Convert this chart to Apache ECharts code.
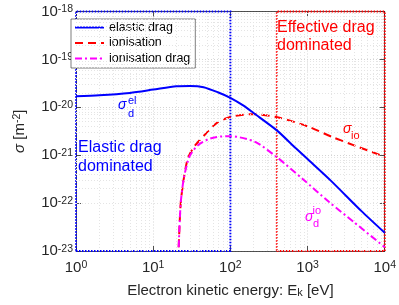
<!DOCTYPE html>
<html><head><meta charset="utf-8">
<script src="https://cdn.jsdelivr.net/npm/echarts@6/dist/echarts.min.js"></script>
<style>html,body{margin:0;padding:0;background:#fff}#c{width:399px;height:305px}</style>
</head><body><div id="c"></div>
<script>
// ---- data (cross sections in m^2, energies in eV) ----
const seriesNames = ['elastic drag', 'ionisation', 'ionisation drag'];
const elasticE = [1, 2, 5, 10, 20, 30, 45, 70, 100, 150, 200, 400, 700, 1000, 2000, 5000, 10000];
const elasticSigma = [1.70e-20, 1.78e-20, 2.0e-20, 2.34e-20, 2.75e-20, 2.79e-20, 2.63e-20, 2.04e-20, 1.58e-20, 1.07e-20, 7.6e-21, 3.3e-21, 1.41e-21, 8.3e-22, 2.95e-22, 6.8e-23, 2.4e-23];
const ionE = [21.4, 22.1, 22.9, 25.1, 28.2, 34.7, 50, 67.6, 100, 195, 407, 1000, 2090, 4470, 10000];
const ionSigma = [1.2e-23, 4.4e-23, 1.15e-22, 3.5e-22, 8.7e-22, 1.58e-21, 3.0e-21, 4.8e-21, 6.3e-21, 7.2e-21, 6.2e-21, 4.0e-21, 2.4e-21, 1.5e-21, 9.3e-22];
const ionDragE = [21.4, 22.1, 22.9, 25.1, 29.5, 38, 55, 89, 100, 209, 407, 871, 1905, 4000, 10000];
const ionDragSigma = [1.2e-23, 4.4e-23, 1.15e-22, 3.5e-22, 9.3e-22, 1.62e-21, 2.24e-21, 2.5e-21, 2.5e-21, 1.9e-21, 8.9e-22, 3.16e-22, 1.05e-22, 4.0e-23, 1.2e-23];
const xRange = [1, 10000];
const yRange = [1e-23, 1e-18];
const elasticRegion = [1, 100];
const effectiveRegion = [400, 10000];
const regionLabels = ['Elastic drag\ndominated', 'Effective drag\ndominated'];

// ECharts' log scale rounds extents below ~1e-20 to 0, so the y axis works in
// units of 1e-20 m^2 internally; tick labels add the exponent back.
const Y_EXP = 20;
const ys = v => v * Math.pow(10, Y_EXP);

// ---- helpers ----
const zip = (xs, yv) => xs.map((x, i) => [x, ys(yv[i])]);
const minorVals = (lo, hi) => {
  const res = [];
  for (let d = Math.round(Math.log10(lo)); d < Math.round(Math.log10(hi)); d++)
    for (let m = 2; m <= 9; m++) res.push(m * Math.pow(10, d));
  return res;
};
const FONT = '"Liberation Sans", Arial, Helvetica, sans-serif';
const AX = '#262626';
const xLabel = v => '{b|10}{s|' + Math.round(Math.log10(v)) + '}';
const yLabel = v => '{b|10}{s|' + (Math.round(Math.log10(v)) - Y_EXP) + '}';
const richTick = {
  b: { fontSize: 15, fontFamily: FONT, color: AX, verticalAlign: 'bottom', lineHeight: 15, padding: [4, 0, 0, 0] },
  s: { fontSize: 10.5, fontFamily: FONT, color: AX, verticalAlign: 'top', lineHeight: 11 }
};
const gridDot = { color: '#d4d4d4', width: 1, type: [1, 2] };
const minorDot = { color: '#e4e4e4', width: 1, type: [1, 2] };
const yMin = ys(yRange[0]), yMax = ys(yRange[1]);
const lineSeries = (name, data, color, type, z) => ({
  name, type: 'line', data, symbol: 'none', showSymbol: false, smooth: 0.25, z,
  lineStyle: { color, width: 2, type }, itemStyle: { color }
});
const regionArea = (color, range) => ({
  silent: true,
  itemStyle: { color: 'rgba(0,0,0,0)', borderColor: color, borderWidth: 2, borderType: [1.5, 1.5] },
  data: [[{ xAxis: range[0], yAxis: yMin }, { xAxis: range[1], yAxis: yMax }]]
});

const chart = echarts.init(document.getElementById('c'), null, { renderer: 'canvas' });
const sElastic = lineSeries(seriesNames[0], zip(elasticE, elasticSigma), '#0000ff', 'solid', 5);
sElastic.markArea = regionArea('#0000ff', elasticRegion);
const sIon = lineSeries(seriesNames[1], zip(ionE, ionSigma), '#ff0000', [8, 5], 4);
sIon.markArea = regionArea('#ff0000', effectiveRegion);
const sIonDrag = lineSeries(seriesNames[2], zip(ionDragE, ionDragSigma), '#ff00ff', [7, 3, 2, 3], 6);

const option = {
  animation: false,
  backgroundColor: '#fff',
  textStyle: { fontFamily: FONT },
  grid: { left: 63, right: 14, top: 10, bottom: 54 },
  legend: {
    data: seriesNames,
    left: 71, top: 19, orient: 'vertical',
    itemWidth: 29, itemHeight: 14, itemGap: 2.5,
    padding: [2, 5, 3, 3],
    backgroundColor: '#fff', borderColor: AX, borderWidth: 0.6,
    itemStyle: { opacity: 0 },
    lineStyle: { width: 2 },
    textStyle: { fontSize: 12.5, color: '#000', fontFamily: FONT }
  },
  xAxis: [{
    type: 'log', min: xRange[0], max: xRange[1],
    name: '{n|Electron kinetic energy: E}{k|k}{n| [eV]}',
    nameLocation: 'middle', nameGap: 30,
    nameTextStyle: { rich: {
      n: { fontSize: 15, fontFamily: FONT, color: AX, verticalAlign: 'top', lineHeight: 16 },
      k: { fontSize: 11, fontFamily: FONT, color: AX, verticalAlign: 'bottom', lineHeight: 11, padding: [8, 0, 0, 0] }
    } },
    axisLine: { show: true, lineStyle: { color: AX, width: 0.8 } },
    axisTick: { show: true, inside: true, length: 5, lineStyle: { color: AX, width: 0.8 } },
    axisLabel: { formatter: xLabel, rich: richTick, margin: 9 },
    splitLine: { show: true, lineStyle: gridDot }
  }, {
    type: 'log', min: xRange[0], max: xRange[1], position: 'top',
    axisLine: { show: true, lineStyle: { color: AX, width: 0.8 } },
    axisTick: { show: true, inside: true, length: 5, lineStyle: { color: AX, width: 0.8 } },
    axisLabel: { show: false }, splitLine: { show: false }
  }],
  yAxis: [{
    type: 'log', min: yMin, max: yMax,
    name: '{g|σ}{n| [m}{s|-2}{n|]}',
    nameLocation: 'middle', nameGap: 49, nameRotate: 90,
    nameTextStyle: { rich: {
      g: { fontSize: 15, fontFamily: FONT, fontStyle: 'italic', color: AX, verticalAlign: 'bottom', lineHeight: 15, padding: [4, 0, 0, 0] },
      n: { fontSize: 15, fontFamily: FONT, color: AX, verticalAlign: 'bottom', lineHeight: 15, padding: [4, 0, 0, 0] },
      s: { fontSize: 10.5, fontFamily: FONT, color: AX, verticalAlign: 'top', lineHeight: 11 }
    } },
    axisLine: { show: true, lineStyle: { color: AX, width: 0.8 } },
    axisTick: { show: true, inside: true, length: 5, lineStyle: { color: AX, width: 0.8 } },
    axisLabel: { formatter: yLabel, rich: richTick, margin: 3 },
    splitLine: { show: true, lineStyle: gridDot }
  }, {
    type: 'log', min: yMin, max: yMax, position: 'right',
    axisLine: { show: true, lineStyle: { color: AX, width: 0.8 } },
    axisTick: { show: true, inside: true, length: 5, lineStyle: { color: AX, width: 0.8 } },
    axisLabel: { show: false }, splitLine: { show: false }
  }],
  series: [
    {
      name: '_grid', type: 'line', data: [], z: 1, silent: true,
      markLine: {
        silent: true, symbol: 'none', label: { show: false }, lineStyle: minorDot, animation: false,
        data: minorVals(xRange[0], xRange[1]).map(v => ({ xAxis: v }))
          .concat(minorVals(yMin, yMax).map(v => ({ yAxis: v })))
      }
    },
    sElastic, sIon, sIonDrag
  ],
  graphic: [
    { type: 'text', x: 78, y: 157, z: 10, style: { text: regionLabels[0], fill: '#0000ff', font: '16px ' + FONT, lineHeight: 19, verticalAlign: 'middle' } },
    { type: 'text', x: 277, y: 36.5, z: 10, style: { text: regionLabels[1], fill: '#ff0000', font: '16px ' + FONT, lineHeight: 18, verticalAlign: 'middle' } },
    { type: 'text', x: 118, y: 105, z: 10, style: { text: 'σ', fill: '#0000ff', font: 'italic 14px ' + FONT, verticalAlign: 'middle' } },
    { type: 'text', x: 128, y: 101, z: 10, style: { text: 'el', fill: '#0000ff', font: '11px ' + FONT, verticalAlign: 'middle' } },
    { type: 'text', x: 128, y: 113.5, z: 10, style: { text: 'd', fill: '#0000ff', font: '11px ' + FONT, verticalAlign: 'middle' } },
    { type: 'text', x: 343, y: 129, z: 10, style: { text: 'σ', fill: '#ff0000', font: 'italic 14px ' + FONT, verticalAlign: 'middle' } },
    { type: 'text', x: 351, y: 136, z: 10, style: { text: 'io', fill: '#ff0000', font: '11px ' + FONT, verticalAlign: 'middle' } },
    { type: 'text', x: 305, y: 217.5, z: 10, style: { text: 'σ', fill: '#ff00ff', font: 'italic 14px ' + FONT, verticalAlign: 'middle' } },
    { type: 'text', x: 312.5, y: 210.5, z: 10, style: { text: 'io', fill: '#ff00ff', font: '11px ' + FONT, verticalAlign: 'middle' } },
    { type: 'text', x: 313, y: 224, z: 10, style: { text: 'd', fill: '#ff00ff', font: '11px ' + FONT, verticalAlign: 'middle' } }
  ]
};
chart.setOption(option);
</script></body></html>
